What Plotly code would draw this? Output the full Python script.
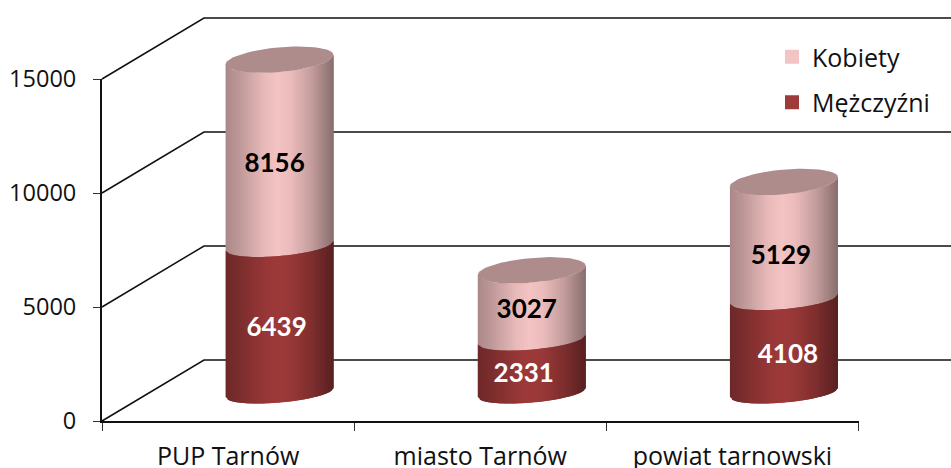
import math
import plotly.graph_objects as go

categories = ["PUP Tarnów", "miasto Tarnów", "powiat tarnowski"]
kobiety = [8156, 3027, 5129]
mezczyzni = [6439, 2331, 4108]
y_ticks = [0, 5000, 10000, 15000]

# Pixel geometry of the plot box
L, R, T, B = 102.0, 858.5, 79.0, 421.0
W, H = 951, 468
X_PER = (R - L) / 3.0          # px per category
Y_PER = (B - T) / 15000.0      # px per unit
DEPTH_X = 102 / X_PER
DEPTH_Y = 61 / Y_PER
BAR_DX = 51.5 / X_PER
BAR_BASE = 28.5 / Y_PER
HALF_W = 54 / X_PER
SKEW = 4.6                     # px, right side of an ellipse sits higher
B_BOTTOM, B_MID, B_TOP = 10.0, 10.3, 12.4
STRIPS = 54

PINK = (244, 195, 195)
RED = (158, 58, 58)
STOPS = [(-1.0, 0.70), (-0.75, 0.78), (-0.3, 0.95), (-0.05, 1.0), (0.2, 0.97), (0.6, 0.80), (1.0, 0.56)]
LABEL_OFF_K = [(-5, 13), (-5, 7), (-3, 17)]
LABEL_OFF_M = [(-3, 10), (-8, 10), (4, 11)]
AX = dict(xaxis="x2", yaxis="y2")


def shade(u):
    for (a, fa), (b, fb) in zip(STOPS, STOPS[1:]):
        if u <= b:
            return fa + (fb - fa) * (u - a) / (b - a)
    return STOPS[-1][1]


def colour(base, u):
    f = shade(u)
    return "rgb(%d,%d,%d)" % tuple(int(c * f) for c in base)


def front(u, b):
    """Downward offset of the ellipse's front edge, in data units."""
    return (b * math.sqrt(max(0.0, 1 - u * u)) - SKEW * u) / Y_PER


fig = go.Figure()

# Invisible trace so the primary axes (ticks and lines) are drawn
fig.add_trace(go.Scatter(x=[0, 1, 2], y=[0, 0, 0], mode="markers", marker=dict(opacity=0),
                         showlegend=False, hoverinfo="skip"))

# Walls: side-wall diagonal plus back-wall gridline
x_edge = (W - L) / X_PER - 0.5
for v in y_ticks:
    fig.add_trace(go.Scatter(
        x=[-0.5, -0.5 + DEPTH_X, x_edge], y=[v, v + DEPTH_Y, v + DEPTH_Y],
        mode="lines", line=dict(color="#111111", width=1.5),
        showlegend=False, hoverinfo="skip", **AX))


def segment(i, start, end, b_low, b_high, base):
    cx = i + BAR_DX
    for s in range(STRIPS):
        u0 = -1 + 2 * s / STRIPS
        u1 = min(1.0, u0 + 2 / STRIPS + 0.04)
        xs = [cx + u0 * HALF_W, cx + u1 * HALF_W, cx + u1 * HALF_W, cx + u0 * HALF_W, cx + u0 * HALF_W]
        ys = [BAR_BASE + end - front(u0, b_high), BAR_BASE + end - front(u1, b_high),
              BAR_BASE + start - front(u1, b_low), BAR_BASE + start - front(u0, b_low),
              BAR_BASE + end - front(u0, b_high)]
        fig.add_trace(go.Scatter(
            x=xs, y=ys, mode="lines", fill="toself", line=dict(width=0),
            fillcolor=colour(base, (2 * u0 + 2 / STRIPS) / 2),
            showlegend=False, hoverinfo="skip", **AX))


for i in range(len(categories)):
    k, m = kobiety[i], mezczyzni[i]
    segment(i, m, m + k, B_MID, B_TOP, PINK)
    segment(i, 0, m, B_BOTTOM, B_MID, RED)
    # top cap
    cx = i + BAR_DX
    n = 72
    cap_x, cap_y = [], []
    for j in range(n + 1):
        t = 2 * math.pi * j / n
        c, sn = math.cos(t), math.sin(t)
        cap_x.append(cx + c * HALF_W)
        cap_y.append(BAR_BASE + m + k + (SKEW * c + B_TOP * sn) / Y_PER)
    fig.add_trace(go.Scatter(
        x=cap_x, y=cap_y, mode="lines", fill="toself", line=dict(width=0),
        fillcolor="#AE8C8C", showlegend=False, hoverinfo="skip", **AX))

# Data labels
for i in range(len(categories)):
    k, m = kobiety[i], mezczyzni[i]
    cx = i + BAR_DX
    dx, dy = LABEL_OFF_K[i]
    fig.add_trace(go.Scatter(
        x=[cx + dx / X_PER], y=[BAR_BASE + m + k / 2 - dy / Y_PER], mode="text",
        text=[str(k)], textposition="middle center",
        textfont=dict(family="Lato", size=26, color="#000000", weight="bold"),
        showlegend=False, hoverinfo="skip", **AX))
    dx, dy = LABEL_OFF_M[i]
    fig.add_trace(go.Scatter(
        x=[cx + dx / X_PER], y=[BAR_BASE + m / 2 - dy / Y_PER], mode="text",
        text=[str(m)], textposition="middle center",
        textfont=dict(family="Lato", size=26, color="#FFFFFF", weight="bold"),
        showlegend=False, hoverinfo="skip", **AX))

# Legend entries
for name, col, grp in [("Kobiety", "#F4C3C3", "a"), ("Mężczyźni", "#9E3A3A", "b")]:
    fig.add_trace(go.Scatter(
        x=[None], y=[None], mode="markers", name=name, legendgroup=grp,
        marker=dict(symbol="square", size=16, color=col, line=dict(color=col, width=5)), **AX))

fig.update_layout(
    width=W, height=H, autosize=False,
    margin=dict(l=0, r=0, t=0, b=0, pad=0),
    paper_bgcolor="rgba(0,0,0,0)", plot_bgcolor="rgba(0,0,0,0)",
    font=dict(family="Open Sans", size=23.5, color="#111111"),
    legend=dict(x=772 / W, y=1 - 34 / H, xanchor="left", yanchor="top",
                bgcolor="rgba(0,0,0,0)", traceorder="grouped", tracegroupgap=10,
                itemsizing="constant", itemwidth=30, font=dict(size=25)),
    xaxis=dict(domain=[L / W, R / W], range=[-0.5, 2.5], tickmode="array", tickvals=[0, 1, 2],
               ticktext=categories, ticks="", showgrid=False, zeroline=False, showline=True,
               linecolor="#111111", linewidth=2, automargin=False, ticklabelstandoff=12,
               tickfont=dict(size=25),
               minor=dict(tickmode="array", tickvals=[-0.5, 0.5, 1.5, 2.5], ticks="outside",
                          ticklen=8, tickwidth=1, tickcolor="#333333", showgrid=False)),
    yaxis=dict(domain=[(H - B) / H, (H - T) / H], range=[0, 15000], tickmode="array",
               tickvals=y_ticks, ticktext=[str(v) for v in y_ticks], ticks="outside",
               ticklen=7, tickwidth=1, tickcolor="#333333", showgrid=False, zeroline=False,
               showline=True, linecolor="#111111", linewidth=2, automargin=False,
               ticklabelstandoff=12),
    xaxis2=dict(domain=[0, 1], range=[-L / X_PER - 0.5, x_edge], visible=False, anchor="y2"),
    yaxis2=dict(domain=[0, 1], range=[-(H - B) / Y_PER, B / Y_PER], visible=False, anchor="x2"),
)

fig.write_html("out.html", config=dict(displayModeBar=False),
               post_script="document.body.style.margin='0';document.body.style.overflow='hidden';")
